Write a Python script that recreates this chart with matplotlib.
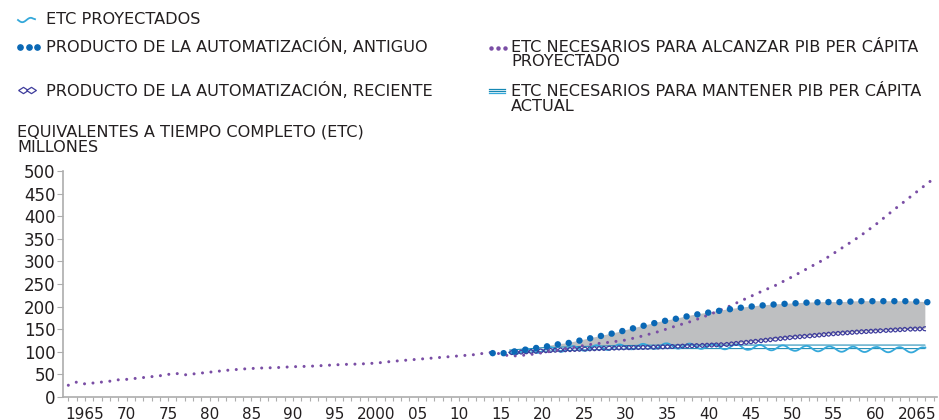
import numpy as np
import matplotlib
matplotlib.use("Agg")
import matplotlib.pyplot as plt
from matplotlib.lines import Line2D

plt.rcParams["font.family"] = ["DejaVu Sans"]
plt.rcParams["lines.scale_dashes"] = False

# ─── data (millions of FTE) ───────────────────────────────────────────────
# FTE needed to reach projected GDP per capita (historical + projection)
alcanzar_years = [1963, 1964, 1965, 1966, 1967, 1968, 1969, 1970, 1972, 1974,
                  1975, 1976, 1977, 1978, 1980, 1982, 1984, 1986, 1988, 1990,
                  1992, 1994, 1996, 1998, 2000, 2002, 2004, 2006, 2008, 2010,
                  2012, 2013, 2014, 2015, 2016, 2017, 2018, 2019, 2020, 2022,
                  2024, 2026, 2028, 2030, 2032, 2034, 2036, 2038, 2040, 2042,
                  2044, 2046, 2048, 2050, 2052, 2054, 2056, 2058, 2060, 2062,
                  2064, 2066, 2067]
alcanzar_vals = [26, 33, 29, 31, 33, 35, 38, 39, 43, 47,
                 50, 52, 49, 51, 55, 59, 62, 64, 65, 67,
                 68, 70, 72, 73, 75, 79, 82, 85, 88, 91,
                 94, 97, 99, 95, 91, 91, 93, 95, 98, 104,
                 111, 117, 121, 126, 135, 145, 157, 168, 182, 197,
                 214, 231, 247, 266, 286, 306, 330, 354, 381, 411,
                 440, 469, 483]

# automation output, early adoption
antiguo_years = [2014, 2015, 2016, 2017, 2018, 2019, 2020, 2021, 2022, 2023,
                 2024, 2025, 2026, 2027, 2028, 2029, 2030, 2032, 2034, 2036,
                 2038, 2040, 2042, 2044, 2046, 2048, 2050, 2052, 2054, 2056,
                 2058, 2060, 2062, 2064, 2066, 2067]
antiguo_vals = [97, 96, 99, 102, 105, 108, 110, 114, 117, 119,
                123, 127, 131, 135, 139, 143, 148, 157, 166, 173,
                181, 187, 193, 198, 202, 205, 207, 209, 210, 210,
                212, 212, 212, 212, 210, 209]

# automation output, late adoption
reciente_years = [2016, 2018, 2020, 2022, 2025, 2028, 2030, 2033, 2036, 2039,
                  2042, 2044, 2046, 2048, 2050, 2052, 2055, 2058, 2061, 2064,
                  2066]
reciente_vals = [98, 100, 102, 104, 106, 108, 109, 110, 112, 114,
                 116, 120, 124, 128, 132, 135, 140, 144, 147, 150,
                 151]

# projected FTE
proyectados_years = [2016, 2020, 2025, 2030, 2035, 2040, 2045, 2050, 2055, 2060, 2066]
proyectados_vals = [99, 104, 108, 111, 113, 112, 110, 108, 106, 105, 104]

# FTE needed to keep current GDP per capita
mantener_years = [2016, 2020, 2025, 2030, 2035, 2066]
mantener_vals = [100, 105, 108, 110, 111, 111]

tick_years = list(range(1965, 2066, 5))
tick_labels = ["1965", "70", "75", "80", "85", "90", "95", "2000", "05", "10",
               "15", "20", "25", "30", "35", "40", "45", "50", "55", "60", "2065"]

# ─── style ────────────────────────────────────────────────────────────────
C_BLUE = "#0A68B5"
C_PURPLE = "#7A4EA5"
C_DIAM = "#3E3C9C"
C_WAVE = "#34A8DA"
C_TEAL = "#1688B4"
C_GRAY = "#BEBFC1"
C_TEXT = "#231F20"
C_AXIS = "#ADADAD"
FS = 11.6

W, H = 939, 420
fig = plt.figure(figsize=(W / 100, H / 100), dpi=100)
ax = fig.add_axes([63 / W, 1 - 397 / H, 874 / W, 226 / H])


def fx(px):
    return px / W


def fy(py):
    return 1 - py / H


# gray band between early and late automation output
band_top = [(y, v) for y, v in zip(antiguo_years, antiguo_vals) if 2016 <= y <= 2066]
band_bot = [(y, v) for y, v in zip(reciente_years, reciente_vals)]
poly_x = [p[0] for p in band_top] + [p[0] for p in band_bot[::-1]]
poly_y = [p[1] for p in band_top] + [p[1] for p in band_bot[::-1]]
ax.fill(poly_x, poly_y, color=C_GRAY, lw=0, zorder=1)

# keep current GDP per capita: double line
ax.plot(mantener_years, mantener_vals, color=C_TEAL, lw=3.3,
        solid_capstyle="butt", zorder=3)
ax.plot(mantener_years, mantener_vals, color="white", lw=1.8,
        solid_capstyle="butt", zorder=3)

# projected FTE: wavy line
wave, = ax.plot(proyectados_years, proyectados_vals, color=C_WAVE, lw=1.3, zorder=4)
wave.set_sketch_params(scale=2.6, length=23, randomness=1)

# late automation: chain of open diamonds
for s in (2.0, -2.0):
    ch, = ax.plot(reciente_years, reciente_vals, color=C_DIAM, lw=0.9, zorder=5)
    ch.set_sketch_params(scale=s, length=9.4, randomness=1)

# projected GDP per capita: purple dots
ax.plot(alcanzar_years, alcanzar_vals, color=C_PURPLE, lw=2.2,
        linestyle=(0, (0.01, 6.1)), dash_capstyle="round", zorder=6)

# early automation: big blue dots
ax.plot(antiguo_years, antiguo_vals, color=C_BLUE, lw=4.7,
        linestyle=(0, (0.01, 7.9)), dash_capstyle="round", zorder=7)

# ─── axes ─────────────────────────────────────────────────────────────────
ax.set_xlim(1962.36, 2067.4)
ax.set_ylim(0, 500)
ax.set_xticks(tick_years)
ax.set_xticklabels(tick_labels)
ax.set_xticks(range(1963, 2068), minor=True)
ax.set_yticks(range(0, 501, 50))
for side in ("top", "right"):
    ax.spines[side].set_visible(False)
for side in ("left", "bottom"):
    ax.spines[side].set_color(C_AXIS)
    ax.spines[side].set_linewidth(1.2)
ax.tick_params(axis="x", which="both", length=3, width=0.8, color=C_AXIS,
               labelsize=11, labelcolor=C_TEXT, pad=4)
ax.tick_params(axis="y", length=4, width=0.8, color=C_AXIS,
               labelsize=12, labelcolor=C_TEXT, pad=1.5)
ax.patch.set_alpha(0)

# ─── legend (drawn by hand, two columns) ─────────────────────────────────
def ftext(x, y, s):
    fig.text(fx(x), fy(y), s, ha="left", va="center", fontsize=FS, color=C_TEXT)


# ETC proyectados
lw_ = Line2D([fx(18), fx(35)], [fy(20), fy(20)], transform=fig.transFigure,
             color=C_WAVE, lw=1.3)
lw_.set_sketch_params(scale=2.2, length=17, randomness=1)
fig.add_artist(lw_)
ftext(46, 19, "ETC PROYECTADOS")

# antiguo
fig.add_artist(Line2D([fx(20), fx(28.5), fx(37)], [fy(47)] * 3,
                      transform=fig.transFigure, ls="none", marker="o",
                      ms=3.8, color=C_BLUE, mec=C_BLUE))
ftext(46, 47, "PRODUCTO DE LA AUTOMATIZACIÓN, ANTIGUO")

# reciente
diam = [(-1, 0), (0, 0.65), (1, 0), (0, -0.65), (-1, 0)]
fig.add_artist(Line2D([fx(22.5), fx(31)], [fy(90)] * 2,
                      transform=fig.transFigure, ls="none", marker=diam,
                      ms=7, mfc="white", mec=C_DIAM, mew=0.9))
ftext(46, 90, "PRODUCTO DE LA AUTOMATIZACIÓN, RECIENTE")

# alcanzar
fig.add_artist(Line2D([fx(491), fx(498), fx(505)], [fy(48)] * 3,
                      transform=fig.transFigure, ls="none", marker="o",
                      ms=2.2, color=C_PURPLE, mec=C_PURPLE))
ftext(511, 47, "ETC NECESARIOS PARA ALCANZAR PIB PER CÁPITA")
ftext(511, 62, "PROYECTADO")

# mantener
for yy, cc in ((88.6, C_TEAL), (91, C_TEAL), (93.4, C_WAVE)):
    fig.add_artist(Line2D([fx(489), fx(505)], [fy(yy)] * 2,
                          transform=fig.transFigure, color=cc, lw=0.9))
ftext(511, 91, "ETC NECESARIOS PARA MANTENER PIB PER CÁPITA")
ftext(511, 106.5, "ACTUAL")

# axis title
ftext(17, 132, "EQUIVALENTES A TIEMPO COMPLETO (ETC)")
ftext(17, 147, "MILLONES")

fig.savefig("out.png", dpi=100)
